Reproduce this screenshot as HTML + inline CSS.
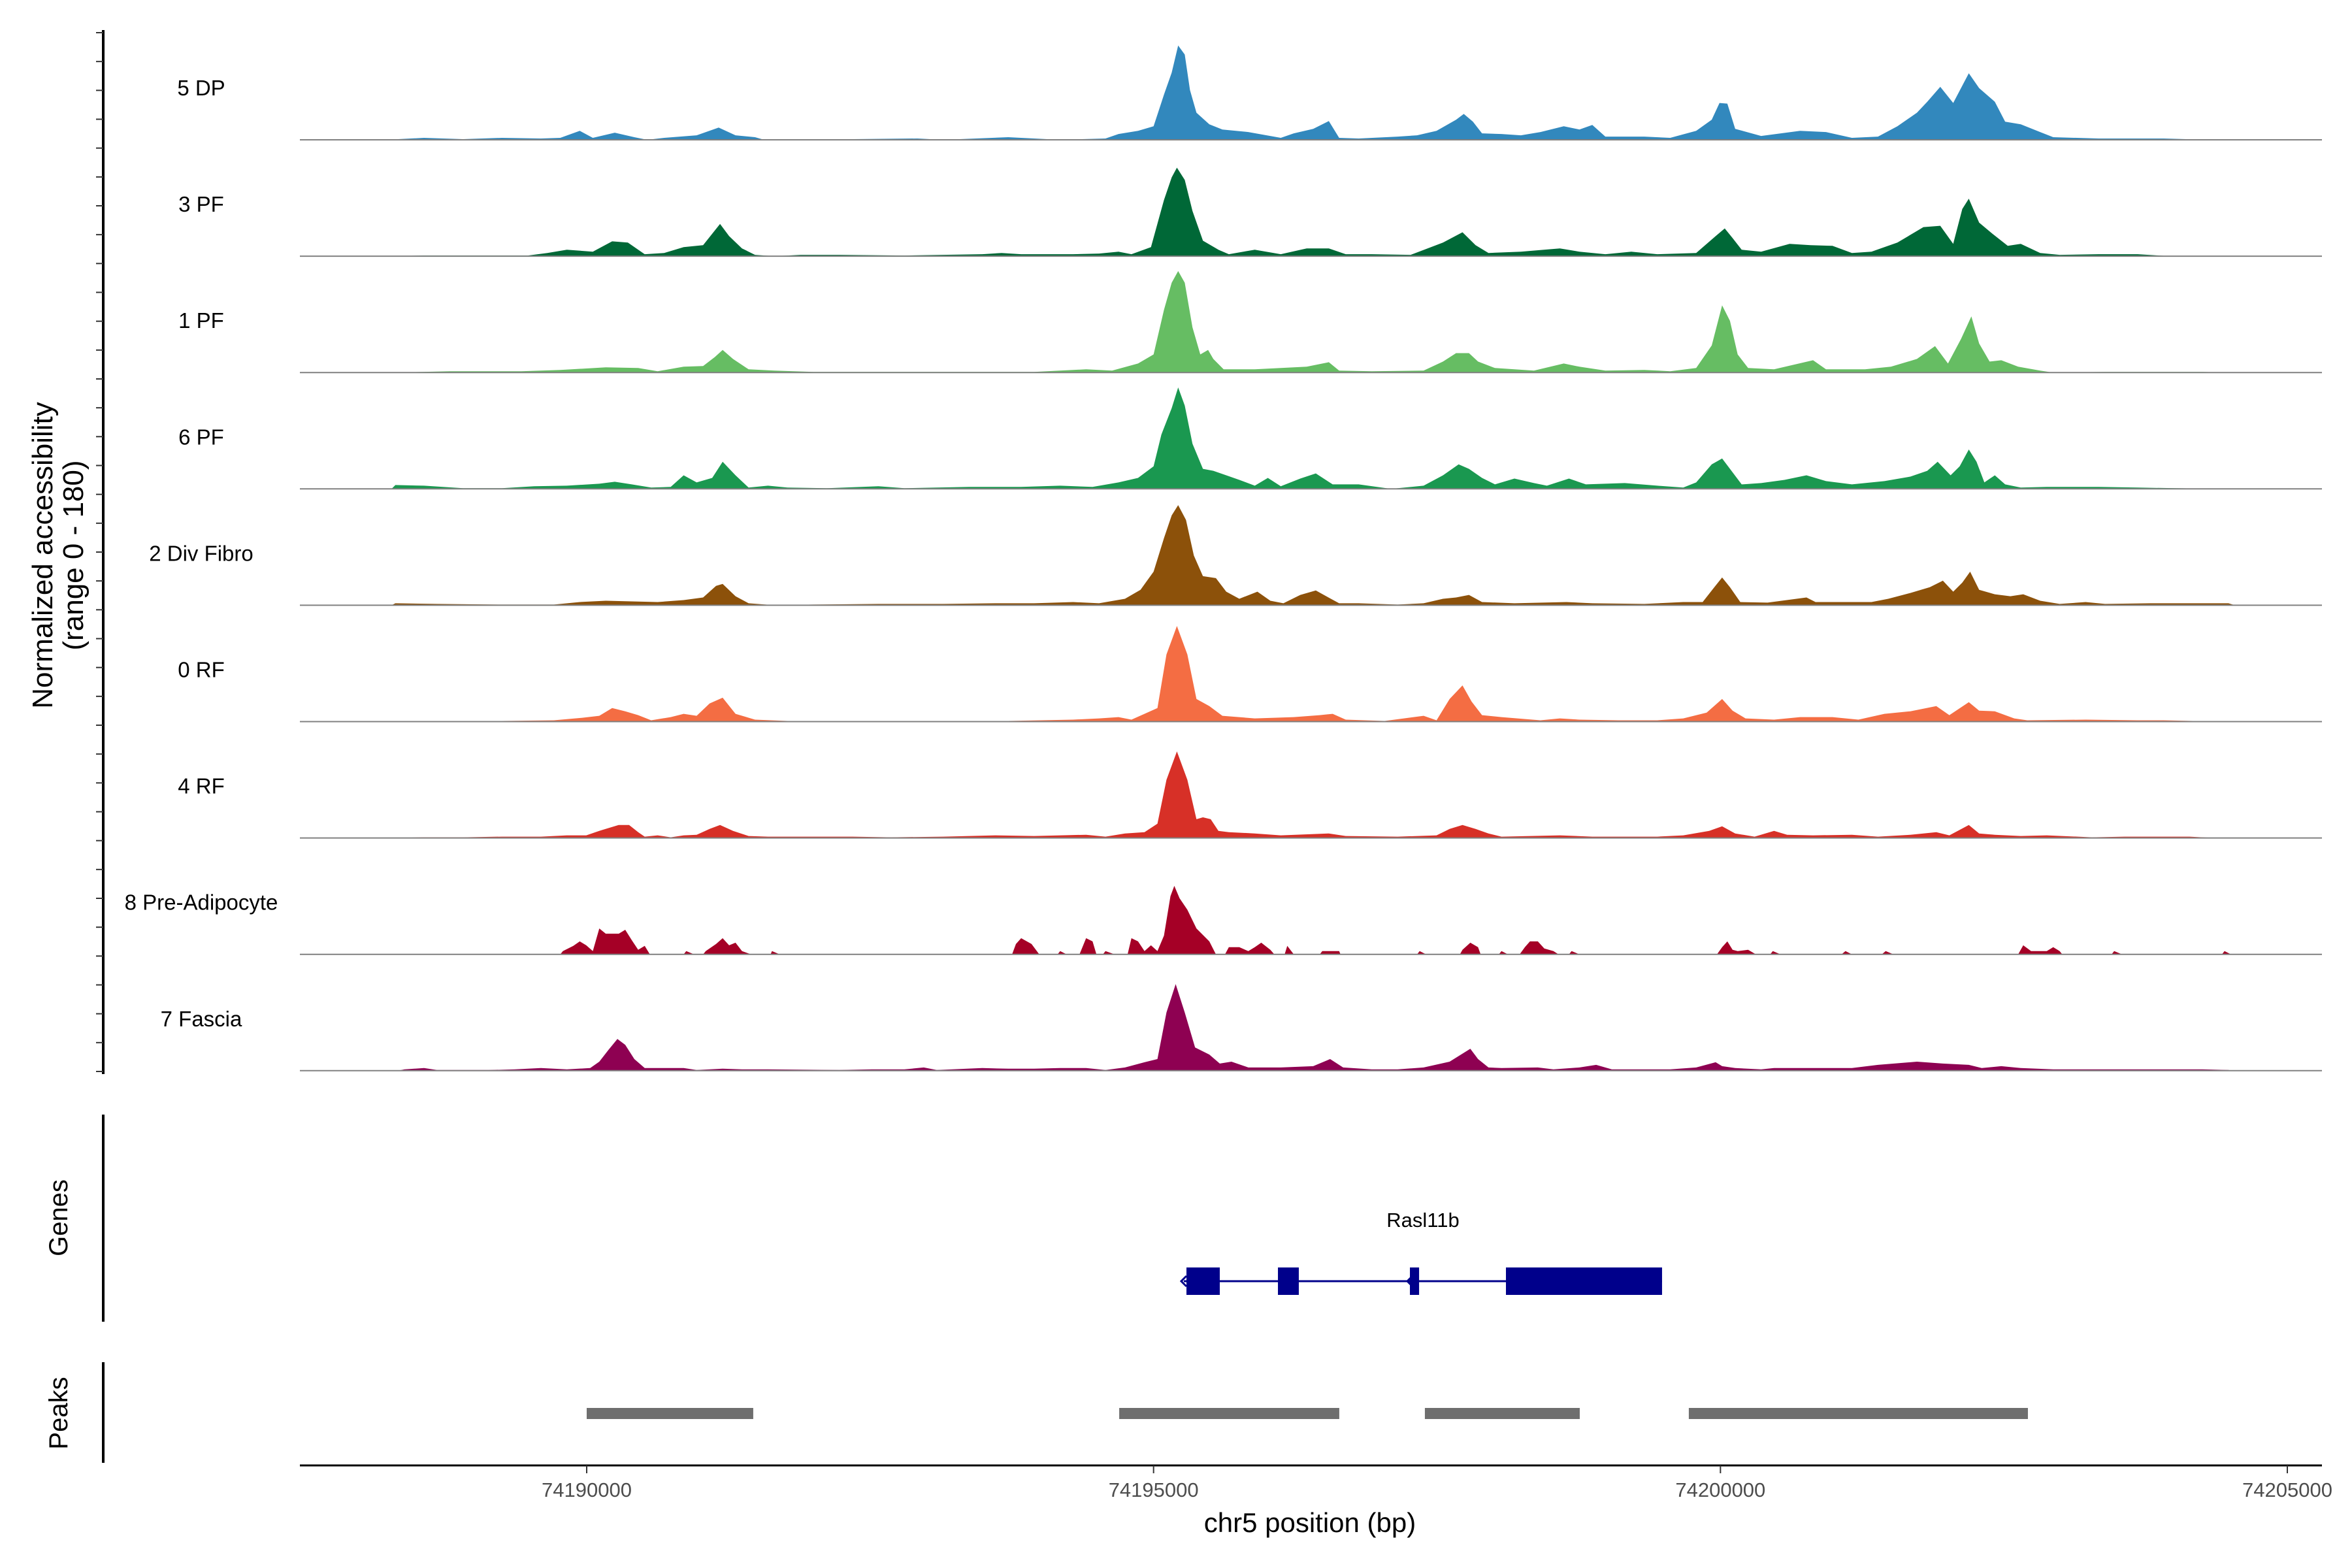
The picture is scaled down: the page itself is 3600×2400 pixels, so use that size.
<!DOCTYPE html>
<html><head><meta charset="utf-8">
<style>
html,body{margin:0;padding:0;background:#fff;}
svg{display:block;font-family:"Liberation Sans",Arial,sans-serif;}
</style></head>
<body>
<svg id="chart" width="3600" height="2400" viewBox="0 0 3600 2400" xmlns="http://www.w3.org/2000/svg">
<rect x="0" y="0" width="3600" height="2400" fill="#fff"/>
<g id="tracks"></g>
<g id="yaxis"></g>
<text transform="translate(80,850) rotate(-90)" text-anchor="middle" font-size="44" fill="#000">Normalized accessibility</text>
<text transform="translate(127,850) rotate(-90)" text-anchor="middle" font-size="44" fill="#000">(range 0 - 180)</text>
<g id="genes"></g>
<g id="peaks"></g>
<g id="xaxis"></g>
<text x="2005" y="2345" text-anchor="middle" font-size="42" fill="#000">chr5 position (bp)</text>
</svg>
<script>
const regionStart = 74187420;
const trackNames = ["5 DP","3 PF","1 PF","6 PF","2 Div Fibro","0 RF","4 RF","8 Pre-Adipocyte","7 Fascia"];
const trackColors = ["#3288BD","#006837","#66BD63","#1A9850","#8C510A","#F46D43","#D73027","#A50026","#8E0152"];
const xTicks = [74190000,74195000,74200000,74205000];
const yRange = [0,180];
// coverage: [bp offset from regionStart, normalized accessibility]
const cov5DP = [[859,0],[916,1],[1145,3],[1489,1],[1832,3],[2176,2],[2347,3],[2519,14],[2634,3],[2828,11],[3000,4],[3114,0],[3263,3],[3550,7],[3744,19],[3893,7],[4065,4],[4145,0],[4466,1],[4924,1],[5496,2],[5725,0],[6298,4],[6756,0],[7156,2],[7271,9],[7443,14],[7580,21],[7672,70],[7740,104],[7797,146],[7855,132],[7901,77],[7958,42],[8072,24],[8187,16],[8416,12],[8702,3],[8817,10],[8988,17],[9126,29],[9217,3],[9389,2],[9733,5],[9904,7],[10076,14],[10248,31],[10316,40],[10397,28],[10477,10],[10649,9],[10820,7],[10992,12],[11198,21],[11336,16],[11450,23],[11565,5],[11908,5],[12137,3],[12366,14],[12503,31],[12572,57],[12641,56],[12710,17],[12939,6],[13282,14],[13511,12],[13740,3],[13969,5],[14141,21],[14313,42],[14404,59],[14519,82],[14633,57],[14771,103],[14862,80],[15000,59],[15091,28],[15229,24],[15400,12],[15515,4],[15916,2],[16145,2],[16488,2],[16889,0]];
const cov3PF = [[859,0],[1145,1],[1718,1],[2061,1],[2233,5],[2405,10],[2634,7],[2805,23],[2943,21],[3092,3],[3263,5],[3435,14],[3607,17],[3756,50],[3836,31],[3950,12],[4065,2],[4237,0],[4466,2],[4809,2],[5382,1],[6069,3],[6240,5],[6412,3],[6870,3],[7099,4],[7271,7],[7385,3],[7557,14],[7672,87],[7740,122],[7786,137],[7855,118],[7923,70],[8015,24],[8152,10],[8244,3],[8473,10],[8702,3],[8931,12],[9126,12],[9275,3],[9504,3],[9847,2],[10133,21],[10305,37],[10420,17],[10534,5],[10820,7],[11164,12],[11336,7],[11565,3],[11794,7],[12023,3],[12366,5],[12538,31],[12618,43],[12687,28],[12767,10],[12939,7],[13190,19],[13374,17],[13568,16],[13740,5],[13912,7],[14141,21],[14370,45],[14519,47],[14633,19],[14713,73],[14771,89],[14862,52],[14977,35],[15114,16],[15229,19],[15400,5],[15572,2],[15916,3],[16259,3],[16545,0]];
const cov1PF = [[916,0],[1374,2],[2004,2],[2347,4],[2748,8],[3034,7],[3206,2],[3435,9],[3607,10],[3710,24],[3779,35],[3870,21],[4008,5],[4237,3],[4580,1],[5725,1],[6527,1],[6985,5],[7214,3],[7443,14],[7580,28],[7672,97],[7740,139],[7797,157],[7855,139],[7923,70],[7992,28],[8061,35],[8107,21],[8198,5],[8473,5],[8931,9],[9126,16],[9217,3],[9504,2],[9962,3],[10133,17],[10248,30],[10362,30],[10442,17],[10591,7],[10935,3],[11198,14],[11336,9],[11565,3],[11908,4],[12137,2],[12366,7],[12503,42],[12595,104],[12664,80],[12732,28],[12824,7],[13053,5],[13397,19],[13511,5],[13855,5],[14084,9],[14313,21],[14473,41],[14587,14],[14702,52],[14793,87],[14862,45],[14954,17],[15057,19],[15206,9],[15400,3],[15515,0],[15973,1],[16832,1],[17061,0]];
const cov6PF = [[859,0],[893,6],[1145,5],[1489,1],[1832,1],[2118,4],[2405,5],[2691,8],[2828,11],[2977,7],[3149,2],[3321,3],[3435,21],[3550,10],[3687,17],[3779,42],[3893,21],[4008,2],[4179,5],[4351,2],[4695,1],[5153,4],[5382,1],[5954,3],[6412,3],[6756,5],[7042,3],[7271,10],[7443,17],[7580,35],[7649,84],[7740,125],[7797,157],[7855,129],[7923,70],[8015,31],[8107,28],[8221,21],[8336,14],[8473,5],[8588,17],[8702,4],[8874,16],[9011,24],[9160,7],[9389,7],[9675,0],[9962,5],[10133,21],[10271,38],[10362,31],[10477,17],[10591,7],[10763,16],[10935,9],[11049,5],[11244,16],[11393,7],[11736,9],[12023,5],[12252,2],[12366,10],[12503,38],[12595,47],[12664,31],[12767,7],[12939,9],[13145,14],[13339,21],[13511,12],[13740,7],[14026,12],[14255,19],[14404,28],[14496,42],[14610,21],[14690,35],[14771,61],[14839,42],[14908,10],[15000,21],[15091,7],[15229,2],[15458,3],[15916,3],[16259,2],[16946,0]];
const cov2Div = [[859,0],[893,3],[1260,2],[1832,1],[2290,1],[2519,5],[2748,7],[2977,6],[3206,5],[3435,8],[3607,12],[3721,30],[3779,33],[3893,14],[4008,3],[4237,0],[4580,1],[5153,2],[5725,2],[6183,3],[6527,3],[6870,5],[7099,3],[7328,10],[7465,24],[7580,52],[7672,104],[7740,139],[7797,155],[7866,132],[7935,77],[8015,45],[8130,42],[8221,21],[8336,10],[8496,21],[8610,7],[8725,3],[8874,16],[9011,23],[9103,14],[9217,3],[9389,3],[9733,1],[9962,3],[10133,10],[10248,12],[10362,16],[10477,5],[10763,3],[11221,5],[11450,3],[11908,2],[12252,5],[12423,5],[12526,28],[12595,43],[12664,28],[12755,5],[12996,4],[13339,12],[13419,5],[13626,5],[13912,5],[14061,10],[14255,19],[14427,28],[14542,38],[14633,21],[14713,35],[14782,52],[14862,24],[15000,17],[15137,14],[15251,17],[15400,7],[15572,2],[15801,5],[15973,2],[16374,3],[17061,3],[17118,0]];
const cov0RF = [[859,0],[916,1],[1260,1],[1832,1],[2290,2],[2542,6],[2691,9],[2805,21],[2920,16],[3034,10],[3149,2],[3321,7],[3435,12],[3550,9],[3664,28],[3779,37],[3893,12],[4065,3],[4351,1],[4924,1],[5725,1],[6298,1],[6870,3],[7099,5],[7271,7],[7385,3],[7500,12],[7614,21],[7694,104],[7786,148],[7878,104],[7958,35],[8072,24],[8187,9],[8473,5],[8817,7],[9046,10],[9160,12],[9275,3],[9618,1],[9962,9],[10076,2],[10191,35],[10305,56],[10385,31],[10477,10],[10649,7],[10992,2],[11164,5],[11336,3],[11679,2],[12023,2],[12252,5],[12458,14],[12595,35],[12687,17],[12801,5],[13053,3],[13282,7],[13568,7],[13797,3],[14026,12],[14255,16],[14484,24],[14599,10],[14771,30],[14862,17],[15000,16],[15171,5],[15286,2],[15801,3],[16259,2],[16488,2],[17003,0]];
const cov4RF = [[859,0],[1145,1],[1489,1],[1832,2],[2176,2],[2405,4],[2576,4],[2691,11],[2862,20],[2954,20],[3034,9],[3092,2],[3206,4],[3321,1],[3435,4],[3550,5],[3664,14],[3756,20],[3870,11],[4008,3],[4179,2],[4580,2],[4924,2],[5267,1],[5725,2],[6183,4],[6527,3],[6756,4],[6985,5],[7156,2],[7328,7],[7500,9],[7614,22],[7694,90],[7786,134],[7878,90],[7958,29],[8015,32],[8084,29],[8152,11],[8244,9],[8473,7],[8702,4],[9126,7],[9275,3],[9733,2],[10076,4],[10191,14],[10305,20],[10420,14],[10534,7],[10649,2],[11164,4],[11450,2],[12023,2],[12252,4],[12481,11],[12595,18],[12710,7],[12881,2],[13053,11],[13168,5],[13397,4],[13740,5],[13969,2],[14255,5],[14484,9],[14599,4],[14771,20],[14862,7],[15000,5],[15229,3],[15458,4],[15859,1],[16145,2],[16717,2],[16946,0]];
const cov8Pre = [[2347,0],[2370,5],[2462,13],[2519,20],[2576,14],[2634,5],[2691,40],[2748,32],[2863,32],[2920,38],[2977,22],[3034,7],[3092,13],[3137,0],[3435,0],[3458,5],[3527,0],[3607,0],[3630,5],[3721,16],[3779,25],[3836,14],[3893,18],[3950,5],[4030,0],[4202,0],[4214,5],[4282,0],[6332,0],[6366,16],[6412,25],[6504,16],[6572,0],[6733,0],[6756,5],[6813,0],[6927,0],[6985,25],[7042,20],[7076,0],[7133,0],[7156,5],[7236,0],[7351,0],[7385,25],[7443,20],[7500,5],[7557,14],[7614,5],[7672,29],[7729,90],[7763,106],[7809,87],[7878,69],[7958,40],[8072,20],[8130,0],[8210,0],[8244,11],[8336,11],[8416,5],[8473,11],[8530,18],[8610,7],[8645,0],[8736,0],[8759,13],[8817,0],[9046,0],[9068,5],[9217,5],[9229,0],[9904,0],[9927,5],[9984,0],[10282,0],[10305,7],[10374,18],[10442,11],[10465,0],[10626,0],[10649,5],[10706,0],[10809,0],[10855,11],[10900,20],[10969,20],[11026,9],[11107,5],[11152,0],[11244,0],[11267,5],[11336,0],[12549,0],[12595,11],[12641,20],[12687,7],[12732,5],[12824,7],[12893,0],[13019,0],[13042,5],[13110,0],[13648,0],[13683,5],[13740,0],[14003,0],[14038,5],[14106,0],[15206,0],[15251,14],[15320,5],[15458,5],[15515,11],[15572,5],[15595,0],[16030,0],[16053,5],[16122,0],[17003,0],[17026,5],[17083,0]];
const cov7Fascia = [[916,0],[973,2],[1145,4],[1260,1],[1489,1],[1718,1],[1947,2],[2176,4],[2405,2],[2611,4],[2691,14],[2771,32],[2851,49],[2920,40],[3000,18],[3092,4],[3435,4],[3550,1],[3779,3],[3950,2],[4179,2],[4809,1],[5095,2],[5382,2],[5553,5],[5668,1],[6069,4],[6298,3],[6527,3],[6756,4],[6985,4],[7156,1],[7328,5],[7500,13],[7614,18],[7694,90],[7775,134],[7855,90],[7946,36],[8072,25],[8164,11],[8267,14],[8416,5],[8702,5],[8988,7],[9137,18],[9252,5],[9504,2],[9733,2],[9962,5],[10191,14],[10374,34],[10442,18],[10534,5],[10649,4],[10969,5],[11107,2],[11336,5],[11484,9],[11622,2],[12137,2],[12366,5],[12538,13],[12595,7],[12710,4],[12939,2],[13053,4],[13397,4],[13740,4],[13969,9],[14313,14],[14542,11],[14771,9],[14885,4],[15057,7],[15229,4],[15515,2],[15973,2],[16259,2],[16603,2],[16832,2],[17061,1],[17083,0]];
const coverage = [cov5DP,cov3PF,cov1PF,cov6PF,cov2Div,cov0RF,cov4RF,cov8Pre,cov7Fascia];
const geneName = "Rasl11b";
const geneSpan = [74195267,74199485];
const exonStarts = [74195290,74196097,74197261,74198108];
const exonEnds = [74195584,74196281,74197342,74199485];
const peakStarts = [74190000,74194697,74197393,74199721];
const peakEnds = [74191469,74196638,74198759,74202712];

const NS = "http://www.w3.org/2000/svg";
const pxPerBp = 2603/15000;
function xScale(bp){ return 898 + (bp - 74190000)*pxPerBp; }
const plotLeft = 459, plotRight = 3554;
const base0 = 214, trackStep = 178.1, trackH = 178;
function yScale(i, v){ return base0 + i*trackStep - (v - yRange[0])/(yRange[1]-yRange[0])*trackH; }
function mk(tag, attrs, parent){ const e=document.createElementNS(NS,tag); for(const k in attrs) e.setAttribute(k,attrs[k]); parent.appendChild(e); return e; }

const tracksG = document.getElementById('tracks');
coverage.forEach((pts, i) => {
  const g = mk('g', {}, tracksG);
  
  
  const base = yScale(i, 0);
  let d = 'M' + xScale(regionStart + pts[0][0]).toFixed(1) + ',' + base.toFixed(1);
  pts.forEach(p => { d += 'L' + xScale(regionStart + p[0]).toFixed(1) + ',' + yScale(i, p[1]).toFixed(1); });
  d += 'L' + xScale(regionStart + pts[pts.length-1][0]).toFixed(1) + ',' + base.toFixed(1) + 'Z';
  const area = mk('path', {d: d, fill: trackColors[i]}, g);
  
  
  const bl = mk('line', {x1: plotLeft, x2: plotRight, y1: base, y2: base, stroke: '#808080', 'stroke-width': 2}, g);
  
  
  const lab = mk('text', {x: 308, y: base - 68, 'text-anchor': 'middle', 'font-size': 33, fill: '#000'}, g);
  lab.textContent = trackNames[i];
  
  
});

const yG = document.getElementById('yaxis');
const ya = mk('line', {x1: 158, x2: 158, y1: 46, y2: 1644, stroke: '#000', 'stroke-width': 4}, yG);


for (let k = 0; k <= 36; k++) {
  const y = 50 + k*(1640-50)/36;
  const t = mk('line', {x1: 147, x2: 158, y1: y, y2: y, stroke: '#333', 'stroke-width': 2}, yG);
  
  
}

const gG = document.getElementById('genes');
const gl = mk('line', {x1: 158, x2: 158, y1: 1706, y2: 2023, stroke: '#000', 'stroke-width': 4}, gG);


const gt = mk('text', {transform: 'translate(103,1864) rotate(-90)', 'text-anchor': 'middle', 'font-size': 40, fill: '#000'}, gG);
gt.textContent = 'Genes';


const gLab = mk('text', {x: (xScale(geneSpan[0]) + xScale(geneSpan[1]))/2, y: 1878, 'text-anchor': 'middle', 'font-size': 31, fill: '#000'}, gG);
gLab.textContent = geneName;


const gLine = mk('line', {x1: xScale(geneSpan[0]), x2: xScale(geneSpan[1]), y1: 1961, y2: 1961, stroke: '#00008B', 'stroke-width': 3}, gG);


exonStarts.forEach((s, j) => {
  const r = mk('rect', {x: xScale(s), y: 1940, width: xScale(exonEnds[j]) - xScale(s), height: 42, fill: '#00008B'}, gG);
  
  
});
[geneSpan[0], exonStarts[2]].forEach(s => {
  const x = xScale(s) - 4;
  const c = mk('path', {d: 'M' + (x+8) + ',1953 L' + x + ',1961 L' + (x+8) + ',1969', fill: 'none', stroke: '#00008B', 'stroke-width': 3}, gG);
  
  
});

const pG = document.getElementById('peaks');
const pl = mk('line', {x1: 158, x2: 158, y1: 2085, y2: 2239, stroke: '#000', 'stroke-width': 4}, pG);


const pt = mk('text', {transform: 'translate(103,2163) rotate(-90)', 'text-anchor': 'middle', 'font-size': 40, fill: '#000'}, pG);
pt.textContent = 'Peaks';


peakStarts.forEach((s, j) => {
  const r = mk('rect', {x: xScale(s), y: 2155, width: xScale(peakEnds[j]) - xScale(s), height: 17, fill: '#6E6E6E'}, pG);
  
  
});

const xG = document.getElementById('xaxis');
const xl = mk('line', {x1: plotLeft, x2: plotRight, y1: 2243, y2: 2243, stroke: '#000', 'stroke-width': 3}, xG);


xTicks.forEach(t => {
  const x = xScale(t);
  const tk = mk('line', {x1: x, x2: x, y1: 2243, y2: 2255, stroke: '#333', 'stroke-width': 2}, xG);
  
  
  const tl = mk('text', {x: x, y: 2291, 'text-anchor': 'middle', 'font-size': 31, fill: '#4D4D4D'}, xG);
  tl.textContent = String(t);
  
  
});
</script>
</body></html>
